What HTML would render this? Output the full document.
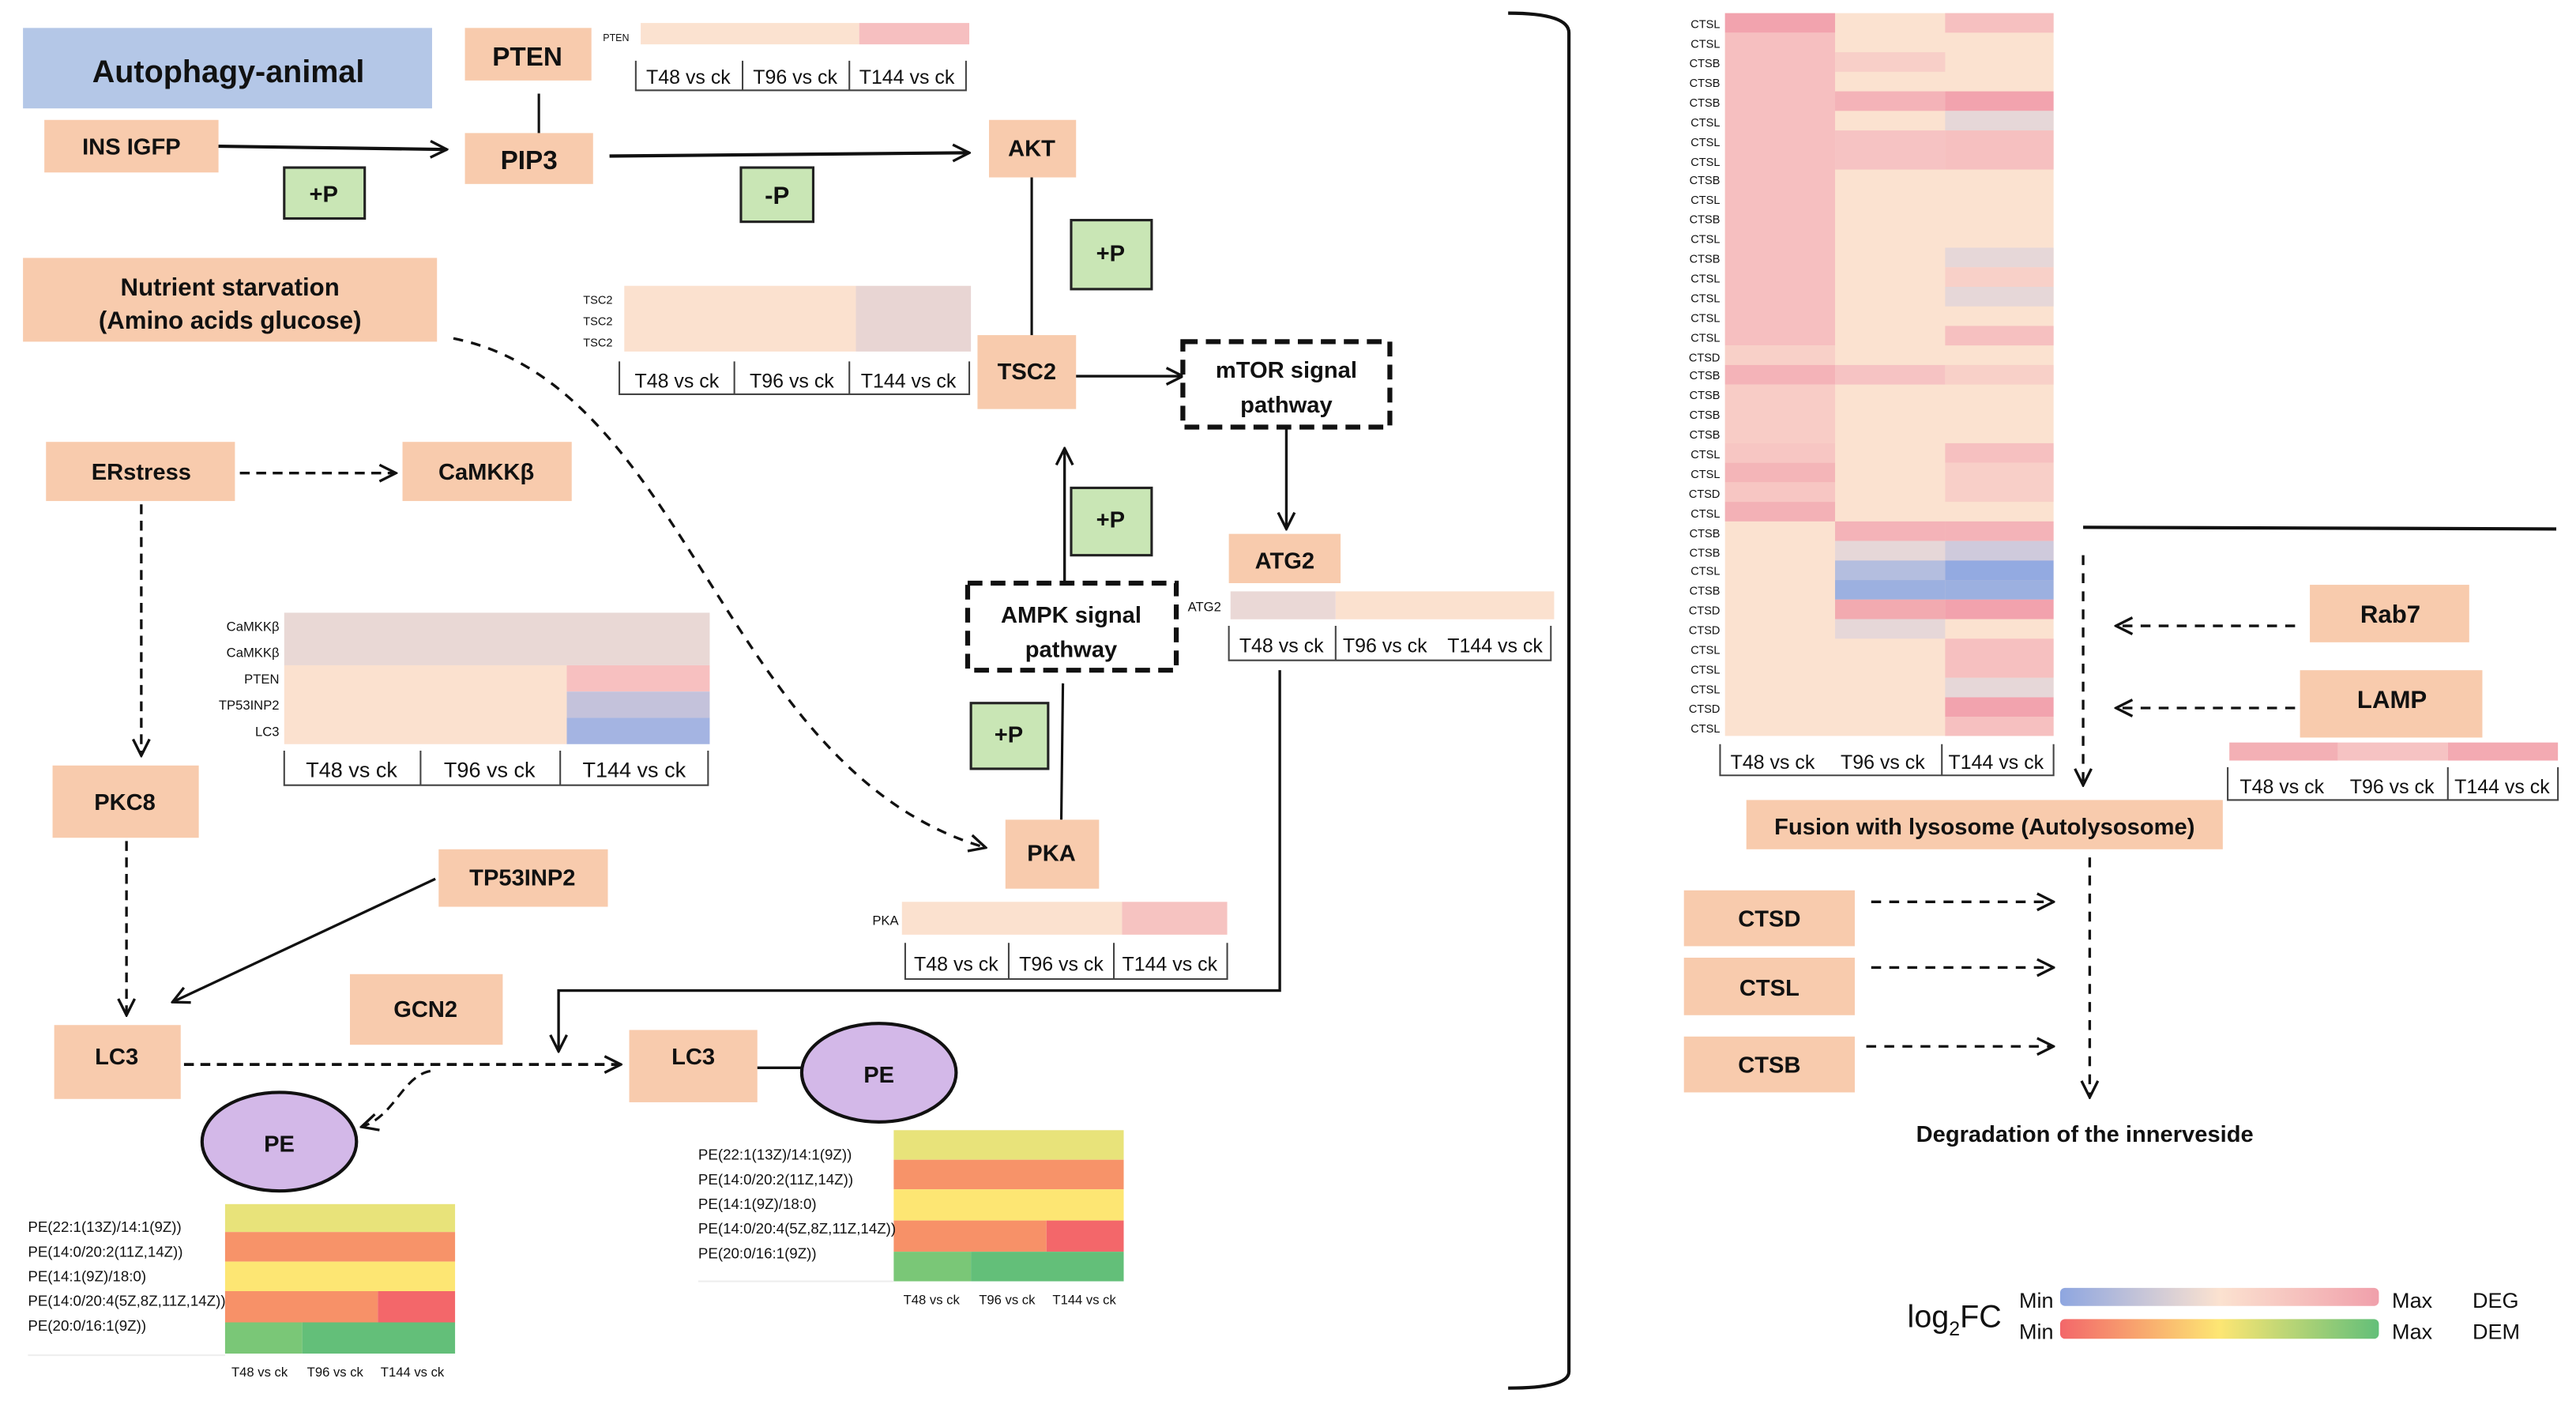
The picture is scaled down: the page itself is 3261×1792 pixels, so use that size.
<!DOCTYPE html>
<html><head><meta charset="utf-8"><style>
html,body{margin:0;padding:0;background:#fff;}
svg{display:block;}
text{font-family:"Liberation Sans",sans-serif;fill:#111;}
.b{font-weight:bold;}
</style></head><body>
<svg width="3261" height="1792" viewBox="0 0 1568 862" preserveAspectRatio="none" xmlns="http://www.w3.org/2000/svg">
<defs>
<marker id="ar" viewBox="0 0 12 12" refX="11" refY="6" markerWidth="12" markerHeight="12" markerUnits="userSpaceOnUse" orient="auto"><path d="M1,1 L11,6 L1,11" fill="none" stroke="#111" stroke-width="1.6"/></marker>
</defs>
<rect width="1568" height="862" fill="#fff"/>

<rect x="14" y="17" width="249" height="49" fill="#b4c7e7"/>
<text x="139" y="50" font-size="19" class="b" text-anchor="middle">Autophagy-animal</text>

<rect x="283" y="17" width="77" height="32" fill="#f8cbad"/>
<text x="321" y="40" font-size="16" class="b" text-anchor="middle">PTEN</text>
<text x="367" y="25" font-size="6">PTEN</text>
<rect x="390" y="14" width="133" height="13" fill="#fbe2d0"/><rect x="523" y="14" width="67" height="13" fill="#f6bfc0"/>
<g stroke="#444" stroke-width="1" fill="none"><path d="M387,37 V55 H588 V37 M452,37 V55 M517,37 V55"/></g>
<text x="419" y="51" font-size="12" text-anchor="middle">T48 vs ck</text><text x="484" y="51" font-size="12" text-anchor="middle">T96 vs ck</text><text x="552" y="51" font-size="12" text-anchor="middle">T144 vs ck</text>

<rect x="27" y="73" width="106" height="32" fill="#f8cbad"/>
<text x="80" y="94" font-size="14" class="b" text-anchor="middle">INS IGFP</text>
<line x1="133" y1="89" x2="272" y2="91" stroke="#111" stroke-width="2" marker-end="url(#ar)"/>
<rect x="173" y="102" width="49" height="31" fill="#c9e6b5" stroke="#222" stroke-width="1.5"/>
<text x="197" y="123" font-size="14" class="b" text-anchor="middle">+P</text>
<rect x="283" y="81" width="78" height="31" fill="#f8cbad"/>
<text x="322" y="103" font-size="16" class="b" text-anchor="middle">PIP3</text>
<line x1="328" y1="57" x2="328" y2="81" stroke="#111" stroke-width="1.5"/>
<line x1="371" y1="95" x2="590" y2="93" stroke="#111" stroke-width="2" marker-end="url(#ar)"/>
<rect x="451" y="102" width="44" height="33" fill="#c9e6b5" stroke="#222" stroke-width="1.5"/>
<text x="473" y="124" font-size="15" class="b" text-anchor="middle">-P</text>
<rect x="602" y="73" width="53" height="35" fill="#f8cbad"/>
<text x="628" y="95" font-size="14" class="b" text-anchor="middle">AKT</text>
<line x1="628" y1="108" x2="628" y2="208" stroke="#111" stroke-width="1.5"/>
<rect x="652" y="134" width="49" height="42" fill="#c9e6b5" stroke="#222" stroke-width="1.5"/>
<text x="676" y="159" font-size="14" class="b" text-anchor="middle">+P</text>

<rect x="14" y="157" width="252" height="51" fill="#f8cbad"/>
<text x="140" y="180" font-size="15" class="b" text-anchor="middle">Nutrient starvation</text>
<text x="140" y="200" font-size="15" class="b" text-anchor="middle">(Amino acids glucose)</text>
<path d="M276,206 C420,235 440,470 600,516" fill="none" stroke="#111" stroke-width="1.6" stroke-dasharray="6,5" marker-end="url(#ar)"/>

<text x="355" y="185" font-size="7">TSC2</text><text x="355" y="198" font-size="7">TSC2</text><text x="355" y="211" font-size="7">TSC2</text>
<rect x="380" y="174" width="141" height="40" fill="#fbe1cf"/><rect x="521" y="174" width="70" height="40" fill="#e8d5d3"/>
<g stroke="#444" stroke-width="1" fill="none"><path d="M377,220 V240 H590 V220 M447,220 V240 M517,220 V240"/></g>
<text x="412" y="236" font-size="12" text-anchor="middle">T48 vs ck</text><text x="482" y="236" font-size="12" text-anchor="middle">T96 vs ck</text><text x="553" y="236" font-size="12" text-anchor="middle">T144 vs ck</text>
<rect x="595" y="204" width="60" height="45" fill="#f8cbad"/>
<text x="625" y="231" font-size="14" class="b" text-anchor="middle">TSC2</text>
<line x1="655" y1="229" x2="720" y2="229" stroke="#111" stroke-width="1.6" marker-end="url(#ar)"/>

<rect x="720" y="208" width="126" height="52" fill="#fff" stroke="#111" stroke-width="3" stroke-dasharray="9,5"/>
<text x="783" y="230" font-size="14" class="b" text-anchor="middle">mTOR  signal</text>
<text x="783" y="251" font-size="14" class="b" text-anchor="middle">pathway</text>
<line x1="783" y1="260" x2="783" y2="322" stroke="#111" stroke-width="1.6" marker-end="url(#ar)"/>
<rect x="748" y="325" width="68" height="30" fill="#f8cbad"/>
<text x="782" y="346" font-size="14" class="b" text-anchor="middle">ATG2</text>
<text x="723" y="372" font-size="8">ATG2</text>
<rect x="749" y="360" width="64" height="17" fill="#ead8d6"/><rect x="813" y="360" width="133" height="17" fill="#fbe1cf"/>
<g stroke="#444" stroke-width="1" fill="none"><path d="M748,381 V402 H944 V381 M813,381 V402"/></g>
<text x="780" y="397" font-size="12" text-anchor="middle">T48 vs ck</text><text x="843" y="397" font-size="12" text-anchor="middle">T96 vs ck</text><text x="910" y="397" font-size="12" text-anchor="middle">T144 vs ck</text>
<path d="M779,408 V603 H340 V640" fill="none" stroke="#111" stroke-width="1.6" marker-end="url(#ar)"/>

<line x1="648" y1="355" x2="648" y2="273" stroke="#111" stroke-width="1.6" marker-end="url(#ar)"/>
<rect x="652" y="297" width="49" height="41" fill="#c9e6b5" stroke="#222" stroke-width="1.5"/>
<text x="676" y="321" font-size="14" class="b" text-anchor="middle">+P</text>
<rect x="589" y="355" width="127" height="53" fill="#fff" stroke="#111" stroke-width="3" stroke-dasharray="9,5"/>
<text x="652" y="379" font-size="14" class="b" text-anchor="middle">AMPK  signal</text>
<text x="652" y="400" font-size="14" class="b" text-anchor="middle">pathway</text>
<line x1="647" y1="416" x2="646" y2="499" stroke="#111" stroke-width="1.5"/>
<rect x="591" y="428" width="47" height="40" fill="#c9e6b5" stroke="#222" stroke-width="1.5"/>
<text x="614" y="452" font-size="14" class="b" text-anchor="middle">+P</text>
<rect x="612" y="499" width="57" height="42" fill="#f8cbad"/>
<text x="640" y="524" font-size="14" class="b" text-anchor="middle">PKA</text>
<text x="531" y="563" font-size="8">PKA</text>
<rect x="549" y="549" width="134" height="20" fill="#fbe1cf"/><rect x="683" y="549" width="64" height="20" fill="#f6c3c1"/>
<g stroke="#444" stroke-width="1" fill="none"><path d="M551,574 V596 H747 V574 M614,574 V596 M678,574 V596"/></g>
<text x="582" y="591" font-size="12" text-anchor="middle">T48 vs ck</text><text x="646" y="591" font-size="12" text-anchor="middle">T96 vs ck</text><text x="712" y="591" font-size="12" text-anchor="middle">T144 vs ck</text>

<rect x="28" y="269" width="115" height="36" fill="#f8cbad"/>
<text x="86" y="292" font-size="14" class="b" text-anchor="middle">ERstress</text>
<line x1="146" y1="288" x2="241" y2="288" stroke="#111" stroke-width="1.6" stroke-dasharray="6,4" marker-end="url(#ar)"/>
<rect x="245" y="269" width="103" height="36" fill="#f8cbad"/>
<text x="296" y="292" font-size="14" class="b" text-anchor="middle">CaMKKβ</text>
<line x1="86" y1="307" x2="86" y2="460" stroke="#111" stroke-width="1.6" stroke-dasharray="6,4" marker-end="url(#ar)"/>

<g font-size="8" text-anchor="end">
<text x="170" y="384">CaMKKβ</text><text x="170" y="400">CaMKKβ</text><text x="170" y="416">PTEN</text><text x="170" y="432">TP53INP2</text><text x="170" y="448">LC3</text></g>
<rect x="173" y="373" width="259" height="32" fill="#e9d8d5"/>
<rect x="173" y="405" width="172" height="48" fill="#fbe1cf"/>
<rect x="345" y="405" width="87" height="16" fill="#f7c0c0"/>
<rect x="345" y="421" width="87" height="16" fill="#c4c2db"/>
<rect x="345" y="437" width="87" height="16" fill="#a4b4e2"/>
<g stroke="#444" stroke-width="1" fill="none"><path d="M173,457 V478 H431 V457 M256,457 V478 M341,457 V478"/></g>
<text x="214" y="473" font-size="13" text-anchor="middle">T48 vs ck</text><text x="298" y="473" font-size="13" text-anchor="middle">T96 vs ck</text><text x="386" y="473" font-size="13" text-anchor="middle">T144 vs ck</text>

<rect x="32" y="466" width="89" height="44" fill="#f8cbad"/>
<text x="76" y="493" font-size="14" class="b" text-anchor="middle">PKC8</text>
<line x1="77" y1="512" x2="77" y2="618" stroke="#111" stroke-width="1.6" stroke-dasharray="6,4" marker-end="url(#ar)"/>
<rect x="267" y="517" width="103" height="35" fill="#f8cbad"/>
<text x="318" y="539" font-size="14" class="b" text-anchor="middle">TP53INP2</text>
<line x1="265" y1="535" x2="105" y2="610" stroke="#111" stroke-width="1.6" marker-end="url(#ar)"/>
<rect x="213" y="593" width="93" height="43" fill="#f8cbad"/>
<text x="259" y="619" font-size="14" class="b" text-anchor="middle">GCN2</text>
<rect x="33" y="624" width="77" height="45" fill="#f8cbad"/>
<text x="71" y="648" font-size="14" class="b" text-anchor="middle">LC3</text>
<line x1="112" y1="648" x2="378" y2="648" stroke="#111" stroke-width="1.8" stroke-dasharray="6,4" marker-end="url(#ar)"/>
<path d="M262,652 C245,655 240,680 220,686" fill="none" stroke="#111" stroke-width="1.5" stroke-dasharray="6,4" marker-end="url(#ar)"/>
<rect x="383" y="627" width="78" height="44" fill="#f8cbad"/>
<text x="422" y="648" font-size="14" class="b" text-anchor="middle">LC3</text>
<line x1="461" y1="650" x2="489" y2="650" stroke="#111" stroke-width="1.6"/>
<ellipse cx="535" cy="653" rx="47" ry="30" fill="#d3b8e8" stroke="#111" stroke-width="2"/>
<text x="535" y="659" font-size="14" class="b" text-anchor="middle">PE</text>
<ellipse cx="170" cy="695" rx="47" ry="30" fill="#d3b8e8" stroke="#111" stroke-width="2"/>
<text x="170" y="701" font-size="14" class="b" text-anchor="middle">PE</text>

<rect x="137" y="733" width="140" height="17" fill="#e8e37a"/>
<rect x="137" y="750" width="140" height="18" fill="#f79369"/>
<rect x="137" y="768" width="140" height="18" fill="#fde673"/>
<rect x="137" y="786" width="93" height="19" fill="#f79168"/><rect x="230" y="786" width="47" height="19" fill="#f3676a"/>
<rect x="137" y="805" width="47" height="19" fill="#7ac777"/><rect x="184" y="805" width="93" height="19" fill="#63bf79"/>
<g font-size="9"><text x="17" y="750">PE(22:1(13Z)/14:1(9Z))</text><text x="17" y="765">PE(14:0/20:2(11Z,14Z))</text><text x="17" y="780">PE(14:1(9Z)/18:0)</text><text x="17" y="795">PE(14:0/20:4(5Z,8Z,11Z,14Z))</text><text x="17" y="810">PE(20:0/16:1(9Z))</text></g>
<line x1="17" y1="825" x2="137" y2="825" stroke="#eee"/>
<g font-size="8" text-anchor="middle"><text x="158" y="838">T48 vs ck</text><text x="204" y="838">T96 vs ck</text><text x="251" y="838">T144 vs ck</text></g>

<rect x="544" y="688" width="140" height="18" fill="#e8e37a"/>
<rect x="544" y="706" width="140" height="18" fill="#f79369"/>
<rect x="544" y="724" width="140" height="19" fill="#fde673"/>
<rect x="544" y="743" width="93" height="19" fill="#f79168"/><rect x="637" y="743" width="47" height="19" fill="#f3676a"/>
<rect x="544" y="762" width="47" height="18" fill="#7ac777"/><rect x="591" y="762" width="93" height="18" fill="#63bf79"/>
<g font-size="9"><text x="425" y="706">PE(22:1(13Z)/14:1(9Z))</text><text x="425" y="721">PE(14:0/20:2(11Z,14Z))</text><text x="425" y="736">PE(14:1(9Z)/18:0)</text><text x="425" y="751">PE(14:0/20:4(5Z,8Z,11Z,14Z))</text><text x="425" y="766">PE(20:0/16:1(9Z))</text></g>
<line x1="425" y1="780" x2="544" y2="780" stroke="#eee"/>
<g font-size="8" text-anchor="middle"><text x="567" y="794">T48 vs ck</text><text x="613" y="794">T96 vs ck</text><text x="660" y="794">T144 vs ck</text></g>

<path d="M918,8 Q955,8 955,20 V835 Q955,845 918,845" fill="none" stroke="#111" stroke-width="2"/>

<rect x="1050" y="8" width="200" height="440" fill="#fbe2d0"/>
<g>
<rect x="1050" y="8" width="67" height="11.9" fill="#f2a3ae"/>
<rect x="1050" y="19.9" width="67" height="190.4" fill="#f6bfc0"/>
<rect x="1050" y="210.3" width="67" height="11.9" fill="#f8d0c8"/>
<rect x="1050" y="222.2" width="67" height="11.9" fill="#f4b3b8"/>
<rect x="1050" y="234.1" width="67" height="35.7" fill="#f8ccc6"/>
<rect x="1050" y="269.8" width="67" height="11.9" fill="#f7c6c3"/>
<rect x="1050" y="281.7" width="67" height="11.9" fill="#f4b5b8"/>
<rect x="1050" y="293.6" width="67" height="11.9" fill="#f7c6c3"/>
<rect x="1050" y="305.5" width="67" height="11.9" fill="#f3b1b6"/>
<rect x="1117" y="31.8" width="67" height="11.9" fill="#f8cfc8"/>
<rect x="1117" y="55.6" width="67" height="11.9" fill="#f4b3b8"/>
<rect x="1117" y="79.4" width="67" height="23.8" fill="#f6c3c3"/>
<rect x="1117" y="222.2" width="67" height="11.9" fill="#f6c3c3"/>
<rect x="1117" y="317.4" width="67" height="11.9" fill="#f4b3b8"/>
<rect x="1117" y="329.3" width="67" height="11.9" fill="#e6d7d8"/>
<rect x="1117" y="341.2" width="67" height="11.9" fill="#b4bedf"/>
<rect x="1117" y="353.1" width="67" height="11.9" fill="#9cb0e0"/>
<rect x="1117" y="365" width="67" height="11.9" fill="#f2aab0"/>
<rect x="1117" y="376.9" width="67" height="11.9" fill="#e6d7d8"/>
<rect x="1184" y="8" width="66" height="11.9" fill="#f6c0c0"/>
<rect x="1184" y="55.6" width="66" height="11.9" fill="#f2a3ae"/>
<rect x="1184" y="67.5" width="66" height="11.9" fill="#e6d7d8"/>
<rect x="1184" y="79.4" width="66" height="23.8" fill="#f6c0c0"/>
<rect x="1184" y="150.8" width="66" height="11.9" fill="#e6d7d8"/>
<rect x="1184" y="162.7" width="66" height="11.9" fill="#f8d0c8"/>
<rect x="1184" y="174.6" width="66" height="11.9" fill="#e6d7d8"/>
<rect x="1184" y="198.4" width="66" height="11.9" fill="#f6c0c0"/>
<rect x="1184" y="222.2" width="66" height="11.9" fill="#f8d0c8"/>
<rect x="1184" y="269.8" width="66" height="11.9" fill="#f6c0c0"/>
<rect x="1184" y="281.7" width="66" height="23.8" fill="#f8cfc8"/>
<rect x="1184" y="317.4" width="66" height="11.9" fill="#f4b3b8"/>
<rect x="1184" y="329.3" width="66" height="11.9" fill="#cfcadc"/>
<rect x="1184" y="341.2" width="66" height="11.9" fill="#93aae1"/>
<rect x="1184" y="353.1" width="66" height="11.9" fill="#9cb0e0"/>
<rect x="1184" y="365" width="66" height="11.9" fill="#f2a2ad"/>
<rect x="1184" y="388.8" width="66" height="23.8" fill="#f6c0c0"/>
<rect x="1184" y="412.6" width="66" height="11.9" fill="#e6d7d8"/>
<rect x="1184" y="424.5" width="66" height="11.9" fill="#f2a3ae"/>
<rect x="1184" y="436.4" width="66" height="11.6" fill="#f6c0c0"/>
</g>
<g font-size="7" text-anchor="end">
<text x="1047" y="17">CTSL</text><text x="1047" y="29">CTSL</text><text x="1047" y="41">CTSB</text><text x="1047" y="53">CTSB</text><text x="1047" y="65">CTSB</text><text x="1047" y="77">CTSL</text><text x="1047" y="89">CTSL</text><text x="1047" y="101">CTSL</text><text x="1047" y="112">CTSB</text><text x="1047" y="124">CTSL</text><text x="1047" y="136">CTSB</text><text x="1047" y="148">CTSL</text><text x="1047" y="160">CTSB</text><text x="1047" y="172">CTSL</text><text x="1047" y="184">CTSL</text><text x="1047" y="196">CTSL</text><text x="1047" y="208">CTSL</text><text x="1047" y="220">CTSD</text><text x="1047" y="231">CTSB</text><text x="1047" y="243">CTSB</text><text x="1047" y="255">CTSB</text><text x="1047" y="267">CTSB</text><text x="1047" y="279">CTSL</text><text x="1047" y="291">CTSL</text><text x="1047" y="303">CTSD</text><text x="1047" y="315">CTSL</text><text x="1047" y="327">CTSB</text><text x="1047" y="339">CTSB</text><text x="1047" y="350">CTSL</text><text x="1047" y="362">CTSB</text><text x="1047" y="374">CTSD</text><text x="1047" y="386">CTSD</text><text x="1047" y="398">CTSL</text><text x="1047" y="410">CTSL</text><text x="1047" y="422">CTSL</text><text x="1047" y="434">CTSD</text><text x="1047" y="446">CTSL</text>
</g>
<g stroke="#444" stroke-width="1" fill="none"><path d="M1047,453 V472 H1250 V453 M1182,453 V472"/></g>
<text x="1079" y="468" font-size="12" text-anchor="middle">T48 vs ck</text><text x="1146" y="468" font-size="12" text-anchor="middle">T96 vs ck</text><text x="1215" y="468" font-size="12" text-anchor="middle">T144 vs ck</text>

<line x1="1268" y1="321" x2="1556" y2="322" stroke="#111" stroke-width="2"/>
<line x1="1268" y1="338" x2="1268" y2="478" stroke="#111" stroke-width="1.6" stroke-dasharray="6,5" marker-end="url(#ar)"/>
<rect x="1406" y="356" width="97" height="35" fill="#f8cbad"/>
<text x="1455" y="379" font-size="15" class="b" text-anchor="middle">Rab7</text>
<line x1="1397" y1="381" x2="1288" y2="381" stroke="#111" stroke-width="1.6" stroke-dasharray="6,5" marker-end="url(#ar)"/>
<rect x="1400" y="408" width="111" height="41" fill="#f8cbad"/>
<text x="1456" y="431" font-size="15" class="b" text-anchor="middle">LAMP</text>
<line x1="1397" y1="431" x2="1288" y2="431" stroke="#111" stroke-width="1.6" stroke-dasharray="6,5" marker-end="url(#ar)"/>
<rect x="1357" y="452" width="66" height="11" fill="#f3b0b5"/><rect x="1423" y="452" width="67" height="11" fill="#f6c3c3"/><rect x="1490" y="452" width="67" height="11" fill="#f3aab2"/>
<g stroke="#444" stroke-width="1" fill="none"><path d="M1356,467 V487 H1557 V467 M1490,467 V487"/></g>
<text x="1389" y="483" font-size="12" text-anchor="middle">T48 vs ck</text><text x="1456" y="483" font-size="12" text-anchor="middle">T96 vs ck</text><text x="1523" y="483" font-size="12" text-anchor="middle">T144 vs ck</text>
<rect x="1063" y="487" width="290" height="30" fill="#f8cbad"/>
<text x="1208" y="508" font-size="14" class="b" text-anchor="middle">Fusion with lysosome (Autolysosome)</text>
<line x1="1272" y1="522" x2="1272" y2="668" stroke="#111" stroke-width="1.6" stroke-dasharray="6,5" marker-end="url(#ar)"/>
<rect x="1025" y="542" width="104" height="34" fill="#f8cbad"/>
<text x="1077" y="564" font-size="14" class="b" text-anchor="middle">CTSD</text>
<rect x="1025" y="583" width="104" height="35" fill="#f8cbad"/>
<text x="1077" y="606" font-size="14" class="b" text-anchor="middle">CTSL</text>
<rect x="1025" y="631" width="104" height="34" fill="#f8cbad"/>
<text x="1077" y="653" font-size="14" class="b" text-anchor="middle">CTSB</text>
<line x1="1139" y1="549" x2="1250" y2="549" stroke="#111" stroke-width="1.6" stroke-dasharray="6,5" marker-end="url(#ar)"/>
<line x1="1139" y1="589" x2="1250" y2="589" stroke="#111" stroke-width="1.6" stroke-dasharray="6,5" marker-end="url(#ar)"/>
<line x1="1136" y1="637" x2="1250" y2="637" stroke="#111" stroke-width="1.6" stroke-dasharray="6,5" marker-end="url(#ar)"/>
<text x="1269" y="695" font-size="14" class="b" text-anchor="middle">Degradation of the innerveside</text>

<defs>
<linearGradient id="g1"><stop offset="0" stop-color="#8ea6e0"/><stop offset="0.5" stop-color="#fbe2d0"/><stop offset="1" stop-color="#f0a0ab"/></linearGradient>
<linearGradient id="g2"><stop offset="0" stop-color="#f3676a"/><stop offset="0.5" stop-color="#fde673"/><stop offset="1" stop-color="#63bf79"/></linearGradient>
</defs>
<text x="1161" y="808" font-size="19">log<tspan font-size="12" dy="5">2</tspan><tspan dy="-5">FC</tspan></text>
<text x="1229" y="796" font-size="13">Min</text><text x="1229" y="815" font-size="13">Min</text>
<rect x="1254" y="784" width="194" height="11" rx="3" fill="url(#g1)"/>
<rect x="1254" y="803" width="194" height="12" rx="3" fill="url(#g2)"/>
<text x="1456" y="796" font-size="13">Max</text><text x="1456" y="815" font-size="13">Max</text>
<text x="1505" y="796" font-size="13" fill="#333">DEG</text><text x="1505" y="815" font-size="13" fill="#333">DEM</text>
</svg>
</body></html>
